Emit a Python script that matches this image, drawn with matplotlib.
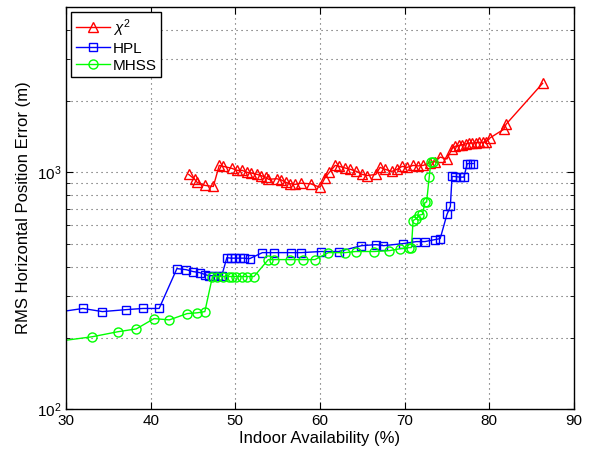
import matplotlib
matplotlib.use("Agg")
import matplotlib.pyplot as plt
from matplotlib.ticker import LogLocator, NullFormatter, MultipleLocator

plt.rcParams['font.family'] = ['Liberation Sans', 'DejaVu Sans']
plt.rcParams['mathtext.fontset'] = 'custom'
plt.rcParams['mathtext.rm'] = 'Liberation Sans'
plt.rcParams['mathtext.it'] = 'Liberation Sans:italic'
plt.rcParams['font.size'] = 11

# RMS horizontal position error vs. indoor availability
chi2_x = [44.5, 45.2, 45.5, 46.4, 47.4, 48.1, 48.6, 49.6, 50.2, 50.8, 51.4, 51.8,
          52.6, 53.0, 53.6, 53.9, 54.9, 55.4, 56.0, 56.5, 57.1, 57.7, 58.9, 60.0,
          60.6, 61.1, 61.8, 62.3, 62.9, 63.6, 64.3, 65.0, 65.6, 66.6, 67.1, 67.7,
          68.5, 69.1, 69.7, 70.3, 71.0, 71.6, 72.2, 73.0, 73.6, 74.2, 75.0, 75.6,
          76.0, 76.4, 76.8, 77.2, 77.6, 78.0, 78.4, 78.8, 79.2, 79.6, 80.1, 81.7,
          82.0, 86.3]
chi2_y = [980, 935, 907, 881, 872, 1070, 1060, 1040, 1020, 1020, 1000, 995,
          980, 970, 955, 935, 940, 930, 907, 895, 890, 900, 895, 865,
          950, 1000, 1070, 1060, 1045, 1030, 1010, 980, 970, 980, 1050, 1030,
          1010, 1030, 1060, 1050, 1070, 1065, 1070, 1100, 1110, 1160, 1140, 1260,
          1290, 1300, 1310, 1320, 1330, 1330, 1335, 1340, 1340, 1345, 1400, 1520,
          1600, 2380]

hpl_x = [28.5, 32.0, 34.3, 37.1, 39.1, 41.0, 43.1, 44.2, 45.0, 45.8, 46.4, 46.9,
         47.4, 47.9, 48.4, 49.0, 49.5, 50.0, 50.5, 51.0, 51.7, 53.2, 54.6, 56.6,
         57.8, 60.1, 62.2, 64.9, 66.6, 67.5, 69.8, 71.4, 72.4, 73.6, 74.2, 75.0,
         75.4, 75.6, 76.0, 76.5, 77.0, 77.4, 77.7, 78.1]
hpl_y = [255, 266, 258, 263, 266, 266, 392, 388, 381, 377, 370, 366,
         366, 366, 366, 436, 434, 434, 434, 434, 432, 458, 458, 458,
         458, 463, 463, 490, 495, 490, 500, 510, 510, 520, 525, 664,
         718, 962, 960, 955, 955, 1090, 1090, 1090]

mhss_x = [28.0, 33.1, 36.1, 38.3, 40.4, 42.2, 44.3, 45.5, 46.4, 47.3, 47.8, 48.5,
          49.2, 49.6, 50.1, 50.8, 51.4, 52.2, 53.9, 54.6, 56.5, 58.0, 59.4, 61.0,
          63.0, 64.2, 66.4, 68.2, 69.5, 70.5, 70.8, 71.0, 71.4, 71.7, 72.1, 72.4,
          72.6, 72.9, 73.1, 73.3]
mhss_y = [191, 202, 212, 218, 241, 238, 253, 255, 258, 363, 363, 363,
          363, 363, 363, 363, 363, 363, 428, 428, 428, 428, 428, 458,
          458, 463, 463, 467, 476, 481, 481, 626, 638, 660, 664, 746,
          750, 952, 1110, 1110]

fig = plt.figure(figsize=(5.92, 4.49), dpi=100)
ax = fig.add_axes([0.1115, 0.0891, 0.858, 0.8953])

ax.plot(chi2_x, chi2_y, '-^', color='red', lw=1.0, ms=7.5, mfc='none', mew=1.0,
        label=r'$\chi^2$')
ax.plot(hpl_x, hpl_y, '-s', color='blue', lw=1.0, ms=5.5, mfc='none', mew=1.0,
        label='HPL')
ax.plot(mhss_x, mhss_y, '-o', color='#00ff00', lw=1.0, ms=6.5, mfc='none', mew=1.0,
        label='MHSS')

ax.set_yscale('log')
ax.set_xlim(30, 90)
ax.set_ylim(100, 5000)
ax.xaxis.set_major_locator(MultipleLocator(10))
ax.yaxis.set_major_locator(LogLocator(base=10))
ax.yaxis.set_minor_locator(LogLocator(base=10, subs=range(2, 10)))
ax.yaxis.set_minor_formatter(NullFormatter())

ax.tick_params(which='both', direction='in', top=True, right=True, labelsize=11)
ax.tick_params(which='major', length=5, width=0.8)
ax.tick_params(which='minor', length=3, width=0.6)
for s in ax.spines.values():
    s.set_linewidth(1.0)

grid_style = dict(ls=(0, (1, 3.5)), color='#555555', lw=0.8)
ax.grid(True, which='major', axis='x', **grid_style)
ax.grid(True, which='both', axis='y', **grid_style)

ax.set_xlabel('Indoor Availability (%)', fontsize=12, labelpad=2)
ax.set_ylabel('RMS Horizontal Position Error (m)', fontsize=12, labelpad=4)

leg = ax.legend(loc='upper left', fancybox=False, framealpha=1, edgecolor='black',
                fontsize=11, borderaxespad=0.35, handlelength=2.2,
                handletextpad=0.2, borderpad=0.3, labelspacing=0.2)
leg.get_frame().set_linewidth(1.0)

fig.savefig('out.png', dpi=100)
